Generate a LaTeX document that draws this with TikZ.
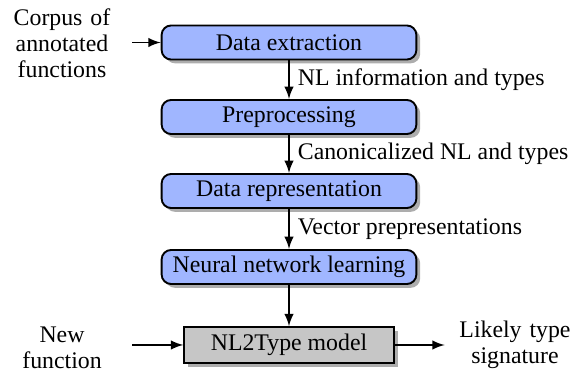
\documentclass[tikz,border=0pt]{standalone}
\usepackage{fontspec}
\setmainfont{Liberation Serif}
\usetikzlibrary{shadows,arrows}

\definecolor{stageblue}{RGB}{160,182,255}

\tikzset{
  stage/.style={draw, thick, rounded corners=4pt, fill=stageblue,
    minimum width=107pt, minimum height=14.3pt, inner sep=2pt,
    drop shadow={shadow xshift=1.6pt, shadow yshift=-1.6pt, fill=black!40, opacity=.8}},
  model/.style={draw, thick, fill=gray!45,
    minimum width=88pt, minimum height=15pt, inner sep=2pt,
    drop shadow={shadow xshift=1.6pt, shadow yshift=-1.6pt, fill=black!40, opacity=.8}},
  side/.style={text width=48pt, align=center, font=\fontsize{10}{11}\selectfont},
  flow/.style={->, >=latex, thick}
}

\begin{document}
\begin{tikzpicture}[x=0.42pt,y=-0.42pt]
    \useasboundingbox (0,0) rectangle (587,373);

    % pipeline
    \node[stage] (extract) at (289,42.5) {Data extraction};
    \node[stage] (prep) at (289,117) {Preprocessing};
    \node[stage] (repr) at (289,191) {Data representation};
    \node[stage] (learn) at (289,267) {Neural network learning};
    \node[model] (model) at (289,345) {NL2Type model};

    % inputs and output
    \node[side] (corpus) at (62,43) {Corpus of\\annotated\\functions};
    \node[side] (newfun) at (62,347.5) {New\\function};
    \node[side] (sig) at (515,345) {Likely type\\signature};

    \draw[flow, shorten <=2pt] (corpus.east |- extract.west) -- (extract.west);
    \draw[flow] (extract) -- (prep) node[midway, right] {NL information and types};
    \draw[flow] (prep) -- (repr) node[midway, right] {Canonicalized NL and types};
    \draw[flow] (repr) -- (learn) node[midway, right] {Vector prepresentations};
    \draw[flow] (learn) -- (model);
    \draw[flow, shorten <=2pt] (newfun.east |- model.west) -- (model.west);
    \draw[flow, shorten >=2pt] (model.east) -- (sig.west |- model.east);

\end{tikzpicture}
\end{document}
